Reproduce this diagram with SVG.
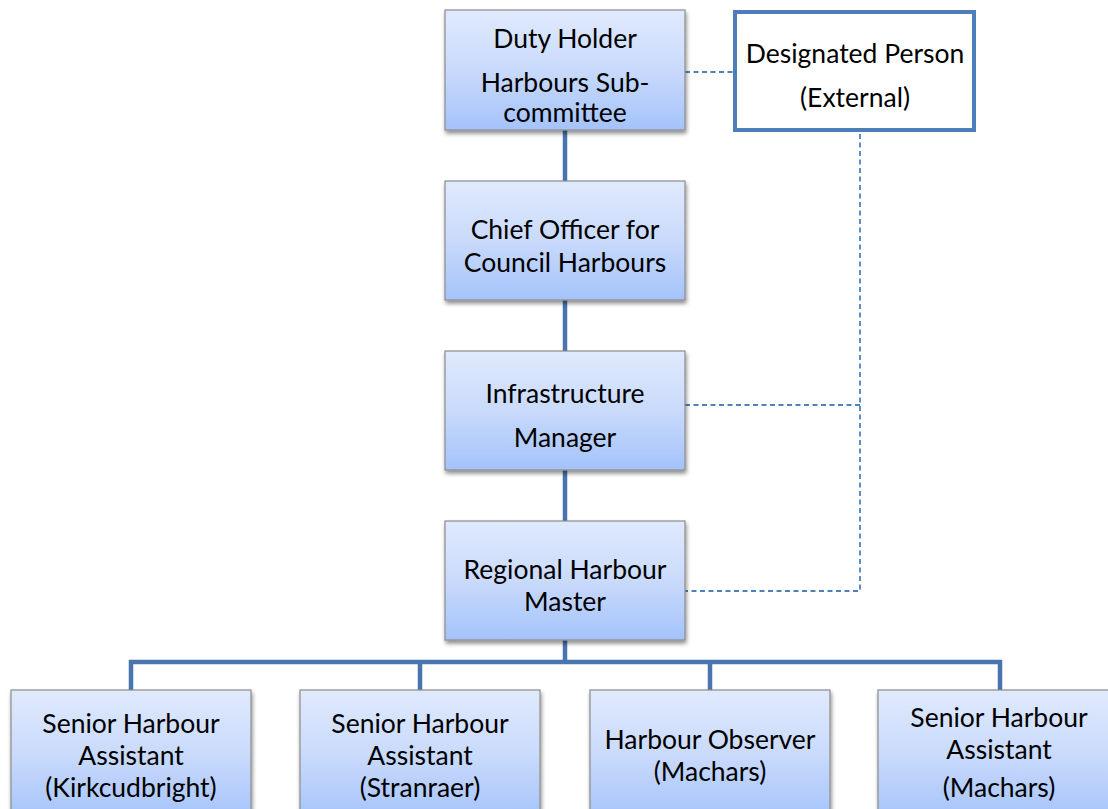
<svg xmlns="http://www.w3.org/2000/svg" width="1108" height="809" viewBox="0 0 1108 809">
  <defs>
    <linearGradient id="boxFill" x1="0" y1="0" x2="0" y2="1">
      <stop offset="0" stop-color="#e0eafd"/>
      <stop offset="0.5" stop-color="#c9dafb"/>
      <stop offset="1" stop-color="#a4c3fb"/>
    </linearGradient>
    <filter id="shadow" x="-5%" y="-5%" width="112%" height="115%">
      <feGaussianBlur in="SourceAlpha" stdDeviation="2"/>
      <feOffset dx="1" dy="3" result="b"/>
      <feComponentTransfer><feFuncA type="linear" slope="0.45"/></feComponentTransfer>
      <feMerge><feMergeNode/><feMergeNode in="SourceGraphic"/></feMerge>
    </filter>
  </defs>
  <style>
    .box { fill: url(#boxFill); stroke: #8c8c8c; stroke-width: 1.2; filter: url(#shadow); }
    .ext { fill: #ffffff; stroke: #4f7dba; stroke-width: 4; }
    .solid { stroke: #4a74ad; stroke-width: 4.5; fill: none; }
    .dash { stroke: #4f81bd; stroke-width: 1.8; stroke-dasharray: 5 3.5; fill: none; }
    text { font-family: "Lato", "Open Sans", sans-serif; font-size: 26.5px; fill: #000; text-anchor: middle; }
  </style>
  <rect width="1108" height="809" fill="#ffffff"/>

  <g id="connectors">
    <line class="solid" x1="565" y1="130" x2="565" y2="181"/>
    <line class="solid" x1="565" y1="300" x2="565" y2="351"/>
    <line class="solid" x1="565" y1="470" x2="565" y2="521"/>
    <line class="solid" x1="565" y1="640" x2="565" y2="662"/>
    <path class="solid" d="M131 690 V662 H1000 V690 M420 662 V690 M710 662 V690"/>
    <line class="dash" x1="685" y1="72" x2="733" y2="72"/>
    <path class="dash" d="M860 134 V591 H685"/>
    <line class="dash" x1="685" y1="405" x2="860" y2="405"/>
  </g>

  <g id="duty-holder">
    <rect class="box" x="445" y="10" width="240" height="120"/>
    <text x="565" y="48">Duty Holder</text>
    <text x="565" y="92">Harbours Sub-</text>
    <text x="565" y="122">committee</text>
  </g>

  <g id="designated-person">
    <rect class="ext" x="735" y="12" width="239" height="118"/>
    <text x="855" y="63">Designated Person</text>
    <text x="855" y="107">(External)</text>
  </g>

  <g id="chief-officer">
    <rect class="box" x="445" y="181" width="240" height="119"/>
    <text x="565" y="239">Chief Officer for</text>
    <text x="565" y="272">Council Harbours</text>
  </g>

  <g id="infrastructure-manager">
    <rect class="box" x="445" y="351" width="240" height="119"/>
    <text x="565" y="403">Infrastructure</text>
    <text x="565" y="447">Manager</text>
  </g>

  <g id="regional-harbour-master">
    <rect class="box" x="445" y="521" width="240" height="119"/>
    <text x="565" y="579">Regional Harbour</text>
    <text x="565" y="611">Master</text>
  </g>

  <g id="sha-kirkcudbright">
    <rect class="box" x="11" y="690" width="240" height="130"/>
    <text x="131" y="733">Senior Harbour</text>
    <text x="131" y="765">Assistant</text>
    <text x="131" y="797">(Kirkcudbright)</text>
  </g>

  <g id="sha-stranraer">
    <rect class="box" x="300" y="690" width="240" height="130"/>
    <text x="420" y="733">Senior Harbour</text>
    <text x="420" y="765">Assistant</text>
    <text x="420" y="797">(Stranraer)</text>
  </g>

  <g id="observer-machars">
    <rect class="box" x="590" y="690" width="240" height="130"/>
    <text x="710" y="749">Harbour Observer</text>
    <text x="710" y="781">(Machars)</text>
  </g>

  <g id="sha-machars">
    <rect class="box" x="878" y="690" width="244" height="130"/>
    <text x="999" y="727">Senior Harbour</text>
    <text x="999" y="759">Assistant</text>
    <text x="999" y="797">(Machars)</text>
  </g>
</svg>
